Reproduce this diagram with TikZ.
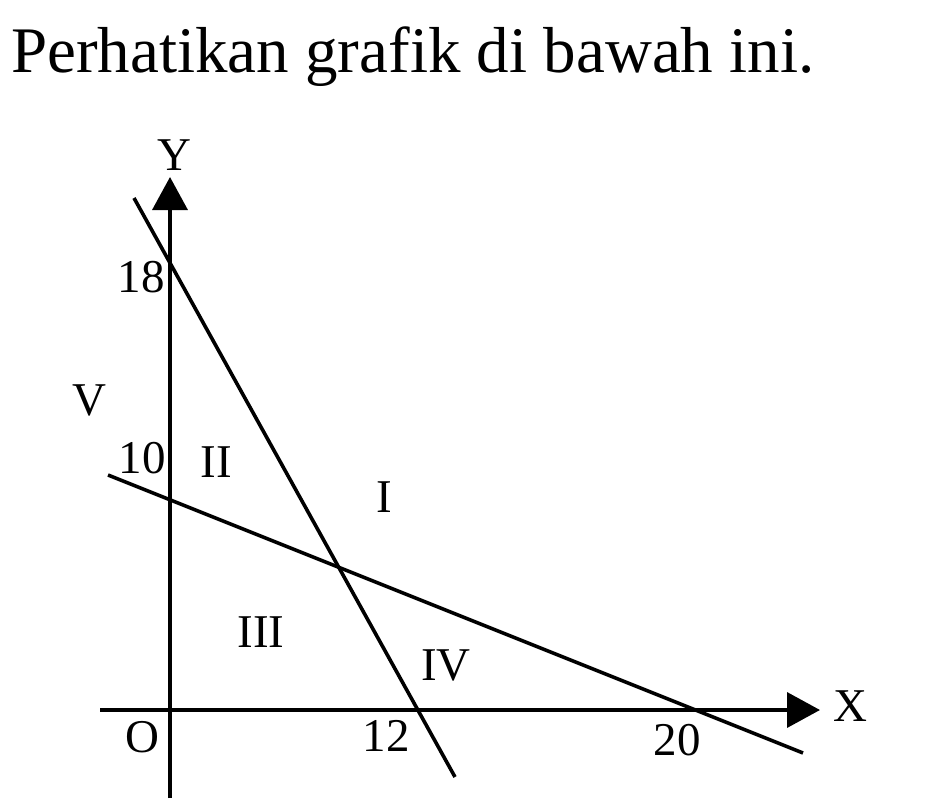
\documentclass[tikz,border=0pt]{standalone}
\usepackage{fontspec}
\setmainfont{Liberation Serif}
\usetikzlibrary{arrows.meta}
\begin{document}
\begin{tikzpicture}[x=1pt,y=-1pt,
  lbl/.style={inner sep=0pt,font=\fontsize{47}{50}\selectfont},
  axis/.style={line width=3.6pt,-{Triangle[length=33pt,width=35pt]}},
  gline/.style={line width=3.6pt}]
\useasboundingbox (0,0) rectangle (942,800);
\node[inner sep=0pt,anchor=base west,font=\fontsize{65}{70}\selectfont] (title) at (11,72) {Perhatikan grafik di bawah ini.};
% axes
\coordinate (xs) at (100,710);
\coordinate (xe) at (820,710);
\coordinate (ys) at (170,798);
\coordinate (ye) at (170,177);
\draw[axis] (xs) -- (xe);
\draw[axis] (ys) -- (ye);
% lines
\coordinate (a1) at (134,198);
\coordinate (a2) at (455,777);
\coordinate (b1) at (108,475);
\coordinate (b2) at (803,753);
\draw[gline] (a1) -- (a2);
\draw[gline] (b1) -- (b2);
% labels
\node[lbl] (Y) at (174,155) {Y};
\node[lbl] (X) at (850,706) {X};
\node[lbl] (O) at (142,737) {O};
\node[lbl] (n18) at (141,277) {18};
\node[lbl] (n10) at (142,458) {10};
\node[lbl] (n12) at (386,736) {12};
\node[lbl] (n20) at (677,740) {20};
\node[lbl] (rV) at (89,400) {V};
\node[lbl] (rII) at (216,462) {II};
\node[lbl] (rI) at (384,497) {I};
\node[lbl] (rIII) at (261,632) {III};
\node[lbl] (rIV) at (446,665) {IV};
\end{tikzpicture}
\end{document}
